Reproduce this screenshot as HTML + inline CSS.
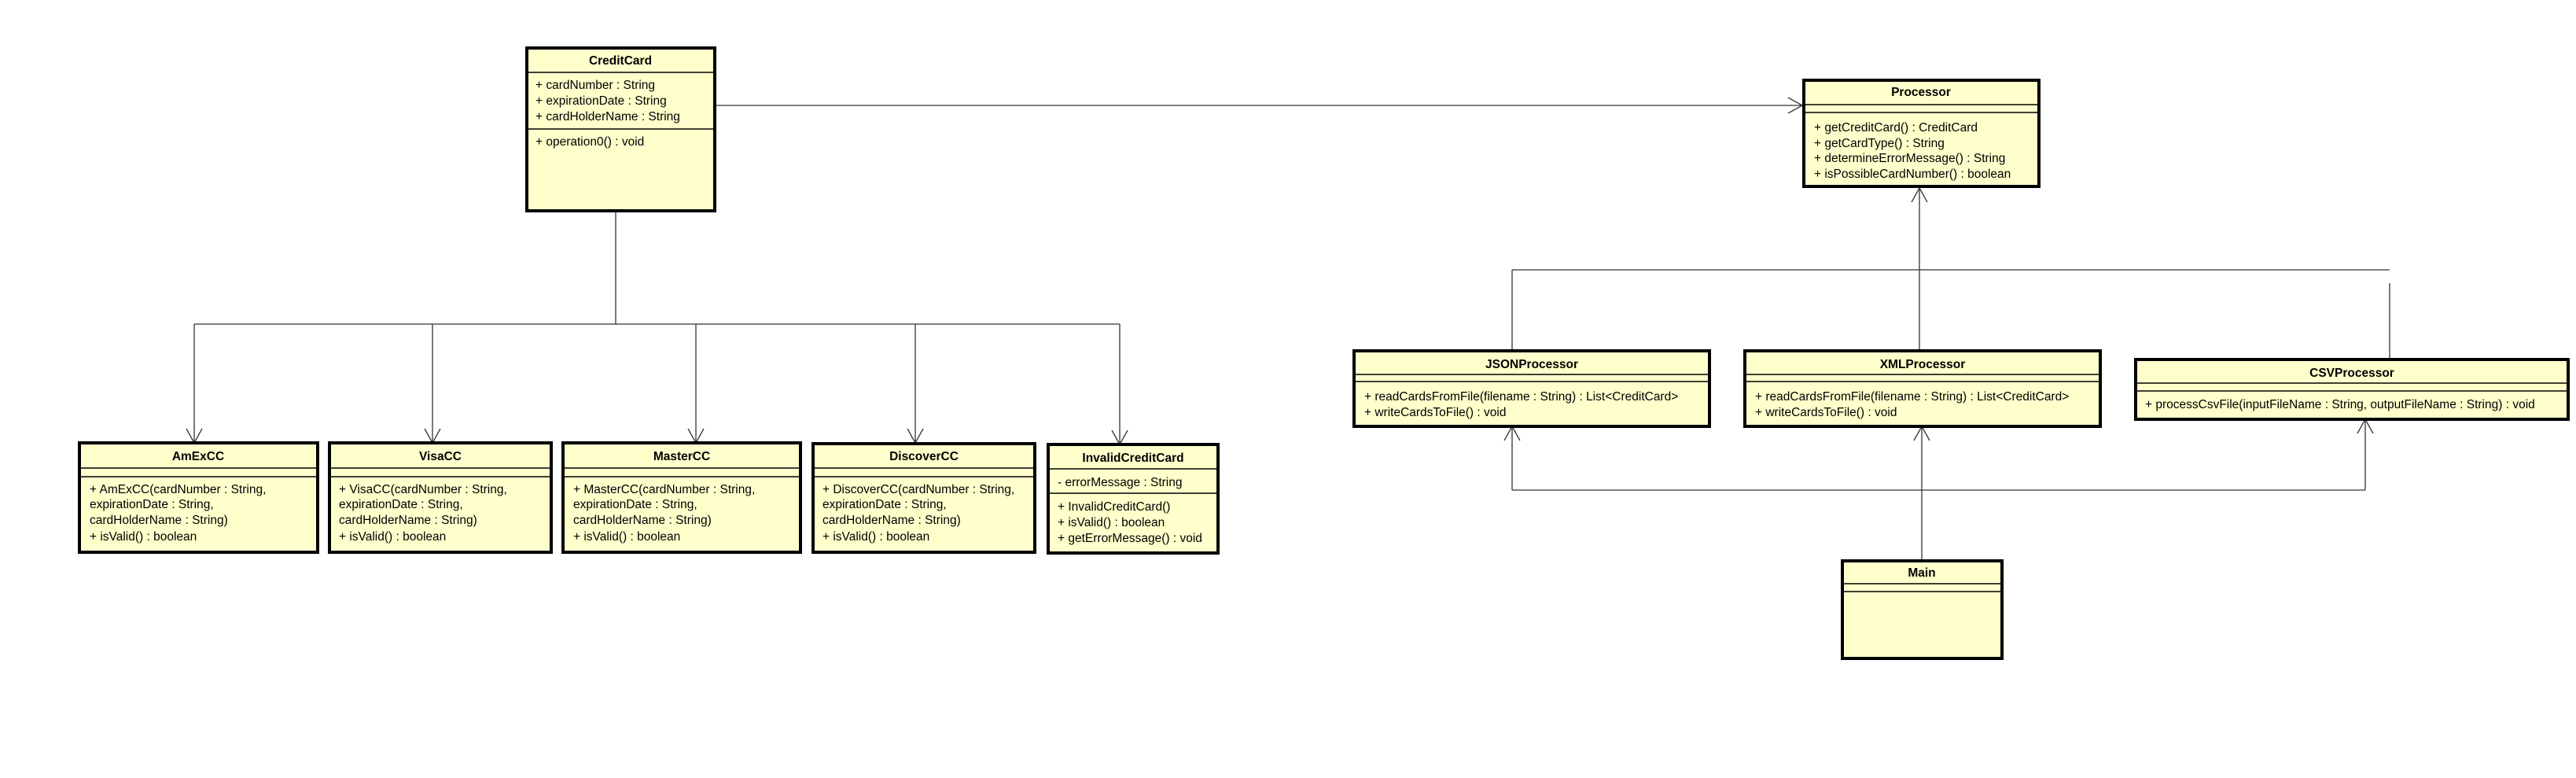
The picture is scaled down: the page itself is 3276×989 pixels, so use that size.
<!DOCTYPE html>
<html><head><meta charset="utf-8"><style>
html,body{margin:0;padding:0;background:#fff;}
svg{display:block}
text{font-family:"Liberation Sans",Arial,sans-serif;font-size:15.5px;fill:#000}
.t{font-weight:bold;text-anchor:middle;font-size:15.5px}
.b{fill:#ffffcc;stroke:#000;stroke-width:4}
.s{stroke:#000;stroke-width:1.5}
.l{stroke:#333;stroke-width:1.3;fill:none}
</style></head><body>
<svg width="3276" height="989" viewBox="0 0 3276 989" xmlns="http://www.w3.org/2000/svg">
<!-- connectors -->
<g class="l">
<path d="M909 134 H2292"/><path d="M2274 124 L2292 134 L2274 144"/>
<path d="M783 268 V412"/><path d="M247 412 H1424"/>
<path d="M247 412 V563"/><path d="M237 545 L247 563 L257 545"/>
<path d="M550 412 V563"/><path d="M540 545 L550 563 L560 545"/>
<path d="M885 412 V563"/><path d="M875 545 L885 563 L895 545"/>
<path d="M1164 412 V563"/><path d="M1154 545 L1164 563 L1174 545"/>
<path d="M1424 412 V565"/><path d="M1414 547 L1424 565 L1434 547"/>
<path d="M2441 445 V239"/><path d="M2431 257 L2441 239 L2451 257"/>
<path d="M1923 343 H3039"/><path d="M1923 343 V445"/><path d="M3039 360 V456"/>
<path d="M2444 712 V542"/><path d="M2434 560 L2444 542 L2454 560"/>
<path d="M1923 623 H3008"/><path d="M1923 623 V542"/><path d="M1913 560 L1923 542 L1933 560"/>
<path d="M3008 623 V533"/><path d="M2998 551 L3008 533 L3018 551"/>
</g>

<!-- CreditCard -->
<rect class="b" x="670" y="61" width="239" height="207"/>
<line class="s" x1="670" y1="92" x2="909" y2="92"/>
<line class="s" x1="670" y1="164" x2="909" y2="164"/>
<text class="t" x="789" y="82">CreditCard</text>
<text x="681" y="113">+ cardNumber : String</text>
<text x="681" y="133">+ expirationDate : String</text>
<text x="681" y="153">+ cardHolderName : String</text>
<text x="681" y="185">+ operation0() : void</text>

<!-- AmExCC -->
<rect class="b" x="101" y="563" width="303" height="139"/>
<line class="s" x1="101" y1="595" x2="404" y2="595"/><line class="s" x1="101" y1="606" x2="404" y2="606"/>
<text class="t" x="252" y="585">AmExCC</text>
<text x="114" y="627">+ AmExCC(cardNumber : String,</text>
<text x="114" y="646">expirationDate : String,</text>
<text x="114" y="666">cardHolderName : String)</text>
<text x="114" y="687">+ isValid() : boolean</text>

<!-- VisaCC -->
<rect class="b" x="419" y="563" width="282" height="139"/>
<line class="s" x1="419" y1="595" x2="701" y2="595"/><line class="s" x1="419" y1="606" x2="701" y2="606"/>
<text class="t" x="560" y="585">VisaCC</text>
<text x="431" y="627">+ VisaCC(cardNumber : String,</text>
<text x="431" y="646">expirationDate : String,</text>
<text x="431" y="666">cardHolderName : String)</text>
<text x="431" y="687">+ isValid() : boolean</text>

<!-- MasterCC -->
<rect class="b" x="716" y="563" width="302" height="139"/>
<line class="s" x1="716" y1="595" x2="1018" y2="595"/><line class="s" x1="716" y1="606" x2="1018" y2="606"/>
<text class="t" x="867" y="585">MasterCC</text>
<text x="729" y="627">+ MasterCC(cardNumber : String,</text>
<text x="729" y="646">expirationDate : String,</text>
<text x="729" y="666">cardHolderName : String)</text>
<text x="729" y="687">+ isValid() : boolean</text>

<!-- DiscoverCC -->
<rect class="b" x="1034" y="564" width="282" height="138"/>
<line class="s" x1="1034" y1="595" x2="1316" y2="595"/><line class="s" x1="1034" y1="606" x2="1316" y2="606"/>
<text class="t" x="1175" y="585">DiscoverCC</text>
<text x="1046" y="627">+ DiscoverCC(cardNumber : String,</text>
<text x="1046" y="646">expirationDate : String,</text>
<text x="1046" y="666">cardHolderName : String)</text>
<text x="1046" y="687">+ isValid() : boolean</text>

<!-- InvalidCreditCard -->
<rect class="b" x="1333" y="565" width="216" height="138"/>
<line class="s" x1="1333" y1="596" x2="1549" y2="596"/><line class="s" x1="1333" y1="627" x2="1549" y2="627"/>
<text class="t" x="1441" y="587">InvalidCreditCard</text>
<text x="1345" y="618">- errorMessage : String</text>
<text x="1345" y="649">+ InvalidCreditCard()</text>
<text x="1345" y="669">+ isValid() : boolean</text>
<text x="1345" y="689">+ getErrorMessage() : void</text>

<!-- Processor -->
<rect class="b" x="2294" y="102" width="299" height="135"/>
<line class="s" x1="2294" y1="133" x2="2593" y2="133"/><line class="s" x1="2294" y1="143" x2="2593" y2="143"/>
<text class="t" x="2443" y="122">Processor</text>
<text x="2307" y="167">+ getCreditCard() : CreditCard</text>
<text x="2307" y="187">+ getCardType() : String</text>
<text x="2307" y="206">+ determineErrorMessage() : String</text>
<text x="2307" y="226">+ isPossibleCardNumber() : boolean</text>

<!-- JSONProcessor -->
<rect class="b" x="1722" y="446" width="452" height="96"/>
<line class="s" x1="1722" y1="476" x2="2174" y2="476"/><line class="s" x1="1722" y1="485" x2="2174" y2="485"/>
<text class="t" x="1948" y="468">JSONProcessor</text>
<text x="1735" y="509">+ readCardsFromFile(filename : String) : List&lt;CreditCard&gt;</text>
<text x="1735" y="529">+ writeCardsToFile() : void</text>

<!-- XMLProcessor -->
<rect class="b" x="2219" y="446" width="452" height="96"/>
<line class="s" x1="2219" y1="476" x2="2671" y2="476"/><line class="s" x1="2219" y1="485" x2="2671" y2="485"/>
<text class="t" x="2445" y="468">XMLProcessor</text>
<text x="2232" y="509">+ readCardsFromFile(filename : String) : List&lt;CreditCard&gt;</text>
<text x="2232" y="529">+ writeCardsToFile() : void</text>

<!-- CSVProcessor -->
<rect class="b" x="2716" y="457" width="550" height="76"/>
<line class="s" x1="2716" y1="487" x2="3266" y2="487"/><line class="s" x1="2716" y1="497" x2="3266" y2="497"/>
<text class="t" x="2991" y="479">CSVProcessor</text>
<text x="2728" y="519">+ processCsvFile(inputFileName : String, outputFileName : String) : void</text>

<!-- Main -->
<rect class="b" x="2343" y="713" width="203" height="124"/>
<line class="s" x1="2343" y1="742" x2="2546" y2="742"/><line class="s" x1="2343" y1="752" x2="2546" y2="752"/>
<text class="t" x="2444" y="733">Main</text>
</svg>
</body></html>
